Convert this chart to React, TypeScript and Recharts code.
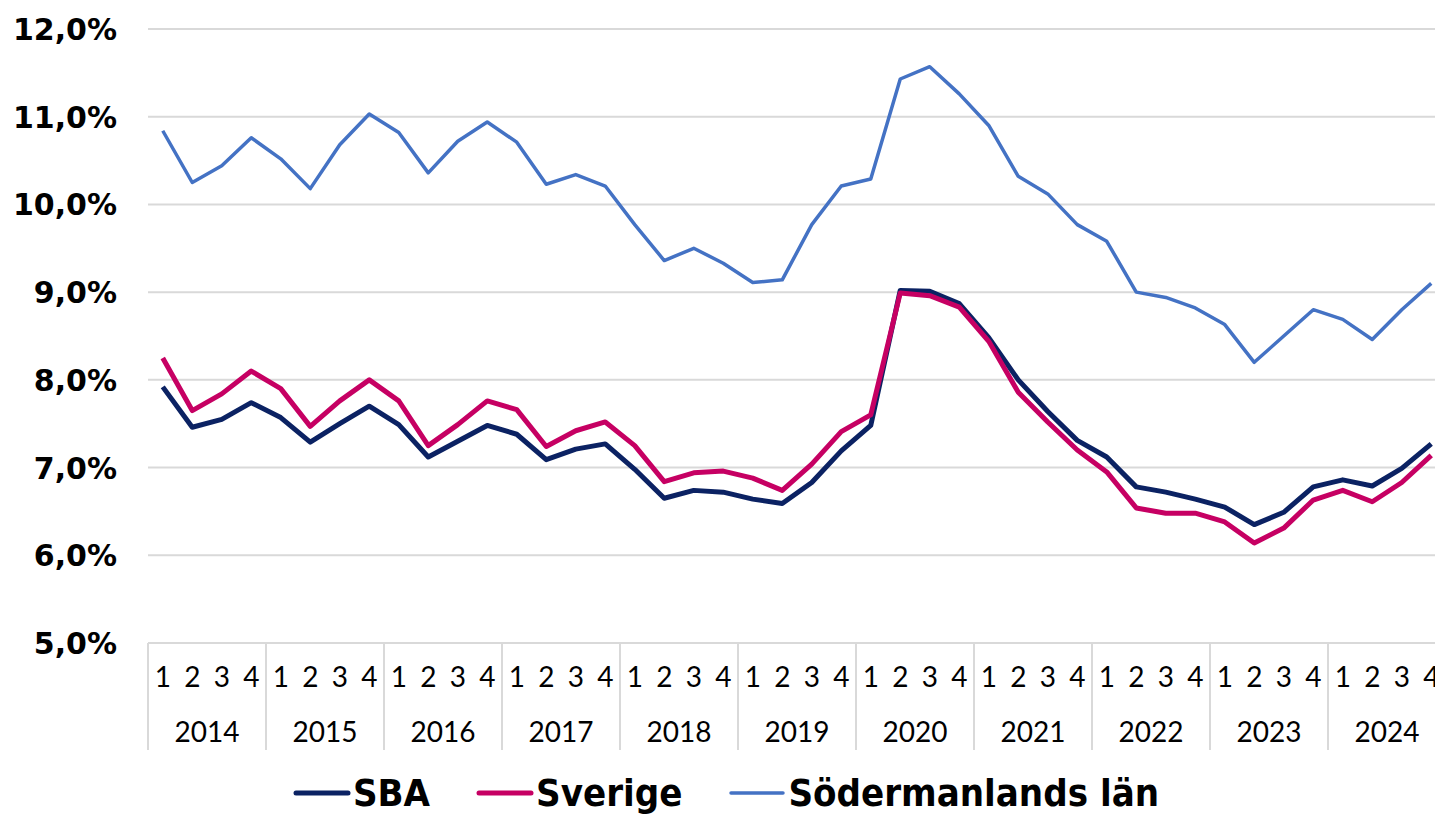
import React from 'react';
import { LineChart, Line, XAxis, YAxis, CartesianGrid, Legend } from 'recharts';

const years = ['2014', '2015', '2016', '2017', '2018', '2019', '2020', '2021', '2022', '2023', '2024'];
const quarterLabels = ['1', '2', '3', '4'];

// arbetslöshet i procent, kvartal 1-4 per år
const sba = [
  7.92, 7.46, 7.55, 7.74,
  7.57, 7.29, 7.5, 7.7,
  7.49, 7.12, 7.3, 7.48,
  7.38, 7.09, 7.21, 7.27,
  6.98, 6.65, 6.74, 6.72,
  6.64, 6.59, 6.83, 7.19,
  7.48, 9.02, 9.01, 8.87,
  8.48, 8.0, 7.64, 7.31,
  7.12, 6.78, 6.72, 6.64,
  6.55, 6.35, 6.49, 6.78,
  6.86, 6.79, 6.99, 7.27,
];
const sverige = [
  8.25, 7.65, 7.84, 8.1,
  7.9, 7.47, 7.76, 8.0,
  7.76, 7.25, 7.49, 7.76,
  7.66, 7.24, 7.42, 7.52,
  7.25, 6.84, 6.94, 6.96,
  6.88, 6.74, 7.04, 7.41,
  7.6, 8.99, 8.96, 8.83,
  8.44, 7.86, 7.52, 7.2,
  6.95, 6.54, 6.48, 6.48,
  6.38, 6.14, 6.31, 6.63,
  6.74, 6.61, 6.83, 7.14,
];
const sodermanland = [
  10.84, 10.25, 10.44, 10.76,
  10.52, 10.18, 10.68, 11.03,
  10.82, 10.36, 10.72, 10.94,
  10.71, 10.23, 10.34, 10.21,
  9.77, 9.36, 9.5, 9.33,
  9.11, 9.14, 9.77, 10.21,
  10.29, 11.43, 11.57, 11.26,
  10.9, 10.32, 10.12, 9.77,
  9.58, 9.0, 8.94, 8.82,
  8.63, 8.2, 8.5, 8.8,
  8.69, 8.46, 8.8, 9.1,
];
const yTicks = [5, 6, 7, 8, 9, 10, 11, 12];

const series = [
  { key: 'sba', name: 'SBA', color: '#0b2263', width: 5 },
  { key: 'sverige', name: 'Sverige', color: '#c60063', width: 5 },
  { key: 'sodermanland', name: 'Södermanlands län', color: '#4472c4', width: 3.5 },
];

const data = years.flatMap((year, yi) =>
  quarterLabels.map((q, qi) => {
    const i = yi * 4 + qi;
    return { id: `${year}-${q}`, sba: sba[i], sverige: sverige[i], sodermanland: sodermanland[i] };
  })
);

const CHART_W = 1450;
const CHART_H = 815;
const Y_AXIS_W = 148;
const MARGIN = { top: 29, right: 4, left: 0, bottom: 0 };
const PLOT_W = CHART_W - MARGIN.left - MARGIN.right - Y_AXIS_W;
const BAND = PLOT_W / data.length;
const GRID = '#d9d9d9';

const tickFont = "Lato, 'Open Sans', sans-serif";

const QuarterTick = (props: any) => {
  const { x, y, payload } = props;
  const i = payload.index;
  const q = i % 4;
  const yi = Math.floor(i / 4);
  return (
    <g>
      <text x={x} y={y + 44} textAnchor="middle" fontFamily={tickFont} fontSize={28} fill="#000">
        {quarterLabels[q]}
      </text>
      {q === 0 && (
        <>
          <line x1={x - BAND / 2} x2={x - BAND / 2} y1={y} y2={y + 107} stroke={GRID} strokeWidth={2} />
          <text x={x + 1.5 * BAND} y={y + 99} textAnchor="middle" fontFamily={tickFont} fontSize={28} fill="#000">
            {years[yi]}
          </text>
        </>
      )}
      {i === data.length - 1 && (
        <line x1={x + BAND / 2} x2={x + BAND / 2} y1={y} y2={y + 107} stroke={GRID} strokeWidth={2} />
      )}
    </g>
  );
};

const PercentTick = (props: any) => {
  const { x, y, payload } = props;
  return (
    <text
      x={x}
      y={y}
      dy={11}
      textAnchor="end"
      fontFamily="'DejaVu Sans', sans-serif"
      fontWeight="bold"
      fontSize={30}
      fill="#000"
    >
      {payload.value.toFixed(1).replace('.', ',')}%
    </text>
  );
};

const LegendContent = () => (
  <div
    style={{
      display: 'flex',
      justifyContent: 'center',
      alignItems: 'center',
      gap: 46,
      height: 52,
      paddingTop: 8,
      paddingLeft: 6,
      boxSizing: 'border-box',
    }}
  >
    {series.map((s) => (
      <div key={s.key} style={{ display: 'flex', alignItems: 'center' }}>
        <svg width={58} height={10} style={{ marginRight: 2 }}>
          <line x1={3} x2={55} y1={5} y2={5} stroke={s.color} strokeWidth={s.width} strokeLinecap="round" />
        </svg>
        <span
          style={{
            fontFamily: "'DejaVu Sans Condensed', 'DejaVu Sans', sans-serif",
            fontStretch: 'condensed',
            fontWeight: 'bold',
            fontSize: 38,
            color: '#000',
            lineHeight: '40px',
          }}
        >
          {s.name}
        </span>
      </div>
    ))}
  </div>
);

export default function App() {
  return (
    <div style={{ width: 1435, height: 815, overflow: 'hidden', background: '#fff' }}>
      <style>{'body{margin:0;overflow:hidden;}'}</style>
      <LineChart width={CHART_W} height={CHART_H} data={data} margin={MARGIN}>
        <CartesianGrid vertical={false} stroke={GRID} strokeWidth={2} />
        <XAxis
          dataKey="id"
          interval={0}
          height={120}
          padding={{ left: BAND / 2, right: BAND / 2 }}
          tick={<QuarterTick />}
          tickLine={false}
          tickSize={0}
          tickMargin={0}
          axisLine={{ stroke: GRID, strokeWidth: 2 }}
        />
        <YAxis
          domain={[5, 12]}
          ticks={yTicks}
          width={Y_AXIS_W}
          axisLine={false}
          tickLine={false}
          tickSize={0}
          tickMargin={31}
          tick={<PercentTick />}
        />
        <Legend verticalAlign="bottom" height={52} content={<LegendContent />} />
        {series.map((s) => (
          <Line
            key={s.key}
            type="linear"
            dataKey={s.key}
            name={s.name}
            stroke={s.color}
            strokeWidth={s.width}
            strokeLinejoin="round"
            dot={false}
            activeDot={false}
            isAnimationActive={false}
          />
        ))}
      </LineChart>
    </div>
  );
}
